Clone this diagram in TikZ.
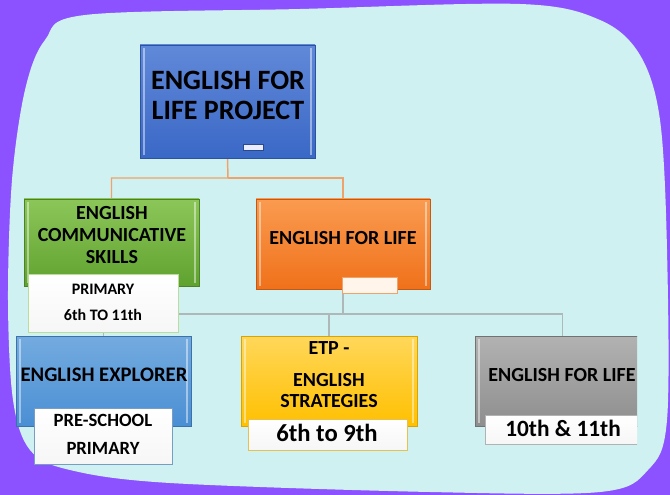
\documentclass[tikz,border=0pt]{standalone}
\usepackage{fontspec}
\setmainfont{Carlito}
\usetikzlibrary{backgrounds}

\definecolor{bgpurple}{HTML}{8C52FF}
\definecolor{bgcyan}{HTML}{D0F1F1}
\definecolor{linkorange}{HTML}{EFA36B}
\definecolor{linkgray}{HTML}{AEB8B8}
\definecolor{rootTop}{HTML}{6189D9}
\definecolor{rootBot}{HTML}{3A68C6}
\definecolor{greenTop}{HTML}{8CC65A}
\definecolor{greenBot}{HTML}{5FA22E}
\definecolor{orangeTop}{HTML}{FA9B50}
\definecolor{orangeBot}{HTML}{F0711A}
\definecolor{explTop}{HTML}{74ABDF}
\definecolor{explBot}{HTML}{4A8FD4}
\definecolor{yelTop}{HTML}{FFD75A}
\definecolor{yelBot}{HTML}{FFC000}
\definecolor{grayTop}{HTML}{B2B2B2}
\definecolor{grayBot}{HTML}{8E8E8E}

\begin{document}
\begin{tikzpicture}[
    x=0.75pt, y=-0.75pt,
    box/.style={rectangle, inner sep=0pt, line width=0.5pt,
      path picture={
        \draw[white, opacity=0.45, line width=1.5pt]
          ([xshift=3pt,yshift=-2pt]path picture bounding box.north west) -- ([xshift=3pt,yshift=2pt]path picture bounding box.south west)
          ([xshift=-3pt,yshift=-2pt]path picture bounding box.north east) -- ([xshift=-3pt,yshift=2pt]path picture bounding box.south east);
      }},
    rootbox/.style={box, top color=rootTop, bottom color=rootBot, draw=rootBot!80!black},
    greenbox/.style={box, top color=greenTop, bottom color=greenBot, draw=greenBot!80!black},
    orangebox/.style={box, top color=orangeTop, bottom color=orangeBot, draw=orangeBot!80!black},
    explbox/.style={box, top color=explTop, bottom color=explBot, draw=explBot!80!black},
    yelbox/.style={box, top color=yelTop, bottom color=yelBot, draw=yelBot!85!black},
    graybox/.style={box, top color=grayTop, bottom color=grayBot, draw=grayBot!80!black},
    subbox/.style={rectangle, inner sep=0pt, line width=0.6pt, top color=white, bottom color=gray!7},
    tabbox/.style={rectangle, inner sep=0pt, line width=0.6pt, fill=#1},
    boxtext/.style={inner sep=0pt, align=center, font=\bfseries\fontsize{15}{16.5}\selectfont},
    orangelink/.style={draw=linkorange, line width=1.1pt},
    graylink/.style={draw=linkgray, line width=1.1pt}
  ]
  \useasboundingbox (0,0) rectangle (670,495);

  % top of the tree
  \node[rootbox, minimum width=131.25pt, minimum height=84.75pt] (root) at (227.5,101.5) {};
  \node[boxtext, font=\bfseries\fontsize{21}{22.5}\selectfont] (root-t) at (228,95) {ENGLISH FOR\\LIFE PROJECT};
  \node[tabbox=white!92!blue, draw=rootBot!70!black, minimum width=15pt, minimum height=4.5pt] (root-tab) at (253,147.5) {};

  % second level
  \node[greenbox, minimum width=131.25pt, minimum height=65.25pt] (ecs) at (111.5,242.5) {};
  \node[boxtext] (ecs-t) at (112,235.5) {ENGLISH\\COMMUNICATIVE\\SKILLS};
  \node[subbox, draw=greenTop!60!white, minimum width=112.5pt, minimum height=43.5pt] (ecs-sub) at (103,303) {};
  \node[boxtext, font=\bfseries\fontsize{12}{19.5}\selectfont] (ecs-sub-t) at (103,302) {PRIMARY\\6th TO 11th};

  \node[orangebox, minimum width=130.5pt, minimum height=67.5pt] (efl) at (343,244) {};
  \node[boxtext] (efl-t) at (343,238) {ENGLISH FOR LIFE};
  \node[tabbox=orange!8!white, draw=linkorange, minimum width=41.25pt, minimum height=12pt] (efl-tab) at (369.5,285) {};

  % third level
  \node[explbox, minimum width=131.25pt, minimum height=67.5pt] (explorer) at (103.5,381) {};
  \node[boxtext, font=\bfseries\fontsize{15.5}{17}\selectfont] (explorer-t) at (104,375) {ENGLISH EXPLORER};
  \node[subbox, draw=explTop!70!gray, minimum width=103.5pt, minimum height=42pt] (explorer-sub) at (103,436) {};
  \node[boxtext, font=\bfseries\fontsize{14}{21}\selectfont] (explorer-sub-t) at (103,434) {PRE-SCHOOL\\PRIMARY};

  \node[yelbox, minimum width=132pt, minimum height=67.5pt] (etp) at (329,381) {};
  \node[boxtext, font=\bfseries\fontsize{15}{15.75}\selectfont] (etp-t) at (329,374.5) {ETP -\\[8pt]ENGLISH\\STRATEGIES};
  \node[subbox, draw=yelTop!90!black, minimum width=119.25pt, minimum height=23.25pt] (etp-sub) at (327.5,434.5) {};
  \node[boxtext, font=\bfseries\fontsize{18.5}{20}\selectfont] (etp-sub-t) at (327,433) {6th to 9th};

  \begin{scope}
    \clip (0,0) rectangle (637,495);
    \node[graybox, minimum width=131.25pt, minimum height=67.5pt] (efl2) at (562.5,381) {};
    \node[boxtext] (efl2-t) at (562,375) {ENGLISH FOR LIFE};
    \node[subbox, draw=grayTop, minimum width=117pt, minimum height=21.75pt] (efl2-sub) at (563,429.5) {};
    \node[boxtext, font=\bfseries\fontsize{17.5}{19}\selectfont] (efl2-sub-t) at (563,428) {10th \& 11th};
  \end{scope}

  \begin{scope}[on background layer]
    \fill[bgpurple] (0,0) rectangle (670,495);
    \fill[bgcyan] plot[smooth cycle, tension=0.55] coordinates {
      (85,15) (300,9) (520,4) (600,20) (640,55) (660,120) (667,250) (667,420)
      (648,470) (600,492) (430,492) (170,483) (70,470) (30,450) (13,400)
      (8,300) (12,180) (25,90) (45,40)};
    % connectors
    \coordinate (hub) at (228,178);
    \coordinate (bus) at (343,314);
    \draw[orangelink] (root.south) -- (hub) -| (ecs.north);
    \draw[orangelink] (hub) -| (efl.north);
    \draw[graylink] (efl.south) -- (bus) -| (explorer.north);
    \draw[graylink] (bus) -| (efl2.north);
    \draw[graylink] (bus -| etp.north) -- (etp.north);
  \end{scope}
\end{tikzpicture}
\end{document}
